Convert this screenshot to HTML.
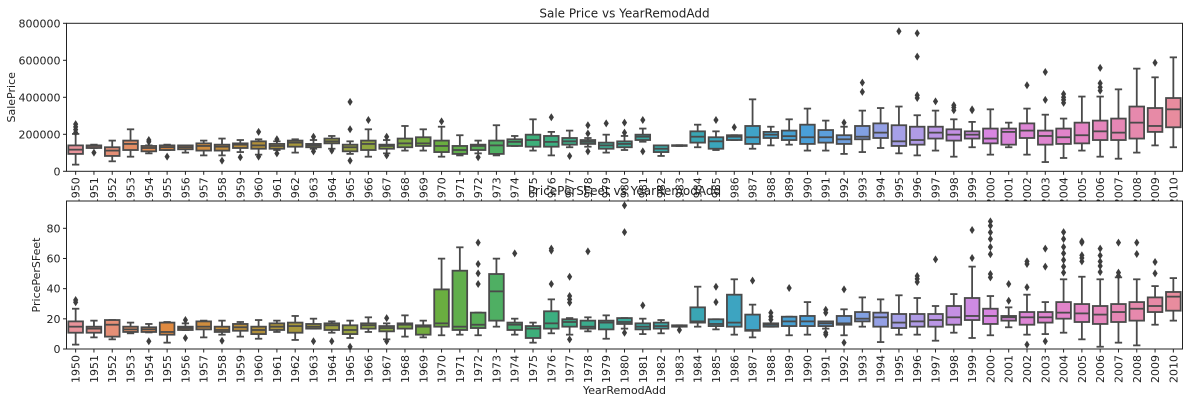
<!DOCTYPE html>
<html><head><meta charset="utf-8"><style>
html,body{margin:0;padding:0;background:#fff;}
svg{display:block;font-family:"DejaVu Sans","Liberation Sans",sans-serif;}
</style></head><body>
<svg id="chart" width="1192" height="403" xmlns="http://www.w3.org/2000/svg"></svg>
<script>
const years = [];
for (let y = 1950; y <= 2010; y++) years.push(String(y));

// Sale price stats (thousands)
const spLow  = [36,126,54,79,97,115,101,86,86,104,90,115,101,122,122,94,79,97,112,112,79,86,97,86,137,112,86,130,133,101,115,160,83,137,130,115,169,122,140,144,112,112,94,104,126,97,86,112,79,130,90,130,90,50,72,112,79,68,101,140,130];
const spQ1   = [94,126,83,115,108,115,119,112,112,126,122,122,133,130,151,108,115,122,130,137,104,94,115,94,137,133,133,144,148,122,130,169,104,137,155,122,169,148,180,169,148,155,148,173,180,137,144,177,166,177,151,144,180,144,148,151,169,169,177,213,238];
const spMed  = [117,137,112,148,126,130,130,137,133,144,140,137,155,140,162,130,148,137,151,151,137,115,137,140,159,169,159,162,159,140,148,187,122,139,187,162,187,184,198,190,184,184,173,187,209,162,169,209,198,198,177,213,220,191,184,195,216,209,263,245,335];
const spQ3   = [140,140,130,166,137,140,140,151,144,151,162,148,166,148,177,144,166,144,177,184,166,137,144,166,173,198,191,180,169,155,162,198,140,141,216,184,195,245,213,220,252,223,195,245,259,249,241,241,227,216,231,231,259,220,231,263,274,285,350,342,396];
const spHigh = [202,144,166,227,140,144,140,166,177,169,173,162,173,169,191,162,227,169,245,227,241,195,166,249,191,281,213,220,180,198,191,231,140,141,252,216,195,389,241,281,339,274,241,328,342,350,303,328,281,267,335,263,339,306,285,404,404,443,555,508,616];
const spOut  = [[210,225,240,255],[101],[],[],[169,160],[79],[],[],[58],[76],[213,79],[173,97],[],[187,108],[112],[375,227,58],[277],[187,86],[],[],[270],[],[76],[],[],[],[292],[83],[249,204,108],[259],[263,209],[277,108],[],[],[],[277],[238],[],[],[],[],[],[263],[479,429],[],[757],[746,620,411,396],[378],[357,345,330],[335,330],[],[],[465],[537,386],[418,400,386,370],[],[559,476,454,436],[],[],[587],[]];
const spTicks = [0,200,400,600,800];
const spTickLabels = ["0","200000","400000","600000","800000"];

// Price per square foot stats
const ppLow  = [2.9,7.7,6.4,10.4,11,4.2,12.6,7.7,9.5,8.2,6.8,11.3,6,13.5,10.8,7.3,11.3,6.4,8.2,7.7,9.1,9.5,9.1,14.8,9.5,4.2,10.4,9.5,11.7,6.8,13.5,9.9,10.4,14.8,14.8,13,9.5,7.7,14.8,9.1,9.5,13.5,9.1,14.8,4.6,9.5,9.5,5.5,10.8,7.3,9.1,14.4,9.5,9.9,10.8,6.4,1.5,4.2,2.4,16.1,18.8];
const ppQ1   = [10.8,10.8,8.2,11.3,11.3,9.5,12.6,13,11.3,12.1,9.9,12.6,10.8,13.5,12.6,9.9,13.5,11.7,13.5,9.5,14.8,12.6,13.9,18.8,12.6,7.3,13.5,14.8,13.5,13,16.6,13,13.5,14.8,17.5,15.2,14.8,12.1,14.8,15.2,15.2,15.2,16.1,18.3,14.8,13.9,14.8,14.8,16.1,19.2,16.6,18.8,16.1,17.5,20.1,17.9,16.6,17.9,18.8,24.5,25.4];
const ppMed  = [14.8,13.5,16.1,13,13,11.3,13.9,14.8,12.6,14.4,12.6,14.8,15.2,14.8,15.7,12.6,15.7,13.9,16.1,14.8,17,14.8,16.1,38.2,16.1,13.5,17,17.9,14.8,17.5,17.9,14.8,15.2,15.2,18.3,16.6,17.5,12.6,16.1,18.3,18.3,17,17,20.1,21,17.5,18.3,19.2,21,21.9,21.9,21,21,21,24.1,23.6,22.8,24.5,26.7,28.5,34.7];
const ppQ3   = [18.3,14.8,19.2,14.8,14.4,17.5,14.8,18.3,14.8,16.6,14.8,17,17.5,16.6,17,15.7,17,15.2,17,15.7,39.5,51.9,24.1,49.7,17.5,15.2,25,19.7,18.8,18.8,20.5,17,17.5,15.7,27.6,19.7,36,22.8,17,21.4,21.9,18.3,21.9,24.5,24.1,23.2,23.2,23.2,28.5,33.8,26.7,21.9,24.5,24.5,31.1,29.8,28.5,29.8,31.1,34.2,37.8];
const ppHigh = [26.7,18.8,19.2,17.5,16.6,17.9,17,18.8,18.8,17.9,19.2,18.8,21.9,20.1,18.3,18.8,21,17,22.3,18.8,59.9,67.4,24.1,59.9,20.1,17.5,32.9,20.5,21,22.3,20.5,20.1,19.2,15.7,41.3,19.7,46.2,29.4,17,21.4,31.1,18.3,26.3,34.2,32.9,35.6,33.8,28.5,36.4,54.6,35.1,27.6,36,31.1,46.2,47.9,46.2,47.5,46.2,41.7,47];
const ppOut  = [[31,32.5],[],[],[],[5.1],[],[19.2,7.3],[],[5.5],[],[],[],[],[5.1],[5.1],[1.5],[],[20.5,5.1],[],[],[],[],[70.5,56.3,50.1,43.1],[],[63.4],[],[66.5,65.2,43.1],[47.9,35.1,32.9,30.7,6.4],[64.7],[],[95.2,77.5,10.8],[28.9],[],[12.6],[],[41.3,31.1],[],[45.3],[24,21.5,19.5],[40.4],[],[26,24,10.8,9.5],[39.5,4.2],[],[],[],[48.4,46.5,44.4],[59.4],[],[78.9,60.3],[84.6,81.7,77.3,72.9,67.6,62.8,49.7,47.5],[43.1,32],[58.1,56.3,40.9,2.9],[66.5,54.6,5.1],[77.5,72.9,67.6,63.4,59,54.6,50.6],[71.3,70.5,62.1,60.3,58.1],[66.5,62,58,55,51],[70.5,50.6,48.5],[70.5,63],[57.7,50.1],[]];
const ppTicks = [0,20,40,60,80];
const ppTickLabels = ["0","20","40","60","80"];

const NS = "http://www.w3.org/2000/svg";
const svg = document.getElementById("chart");
function mk(tag, attrs, parent) {
  const e = document.createElementNS(NS, tag);
  for (const k in attrs) e.setAttribute(k, attrs[k]);
  (parent || svg).appendChild(e);
  return e;
}
const X0 = 66.5, X1 = 1182.5;
const n = years.length;
const band = (X1 - X0) / n;
function xScale(i) { return X0 + band * (i + 0.5); }

const anchors = [[232,147,154],[224,138,64],[178,144,58],[154,164,64],[106,174,64],[61,175,122],[58,170,154],[58,165,187],[74,159,216],[166,160,232],[216,134,224],[228,132,196],[232,140,158]];
function colorAt(i) {
  const t = i / (n - 1) * (anchors.length - 1);
  const a = Math.floor(t), b = Math.min(a + 1, anchors.length - 1), f = t - a;
  const c = anchors[a].map((v, k) => Math.round(v + (anchors[b][k] - v) * f));
  return "rgb(" + c.join(",") + ")";
}

function drawAxes(cfg) {
  const yS = v => cfg.yb - (v - cfg.ymin) / (cfg.ymax - cfg.ymin) * (cfg.yb - cfg.yt);
  const g = mk("g", {});
  
  
  const bg = mk("rect", {x: X0, y: cfg.yt, width: X1 - X0, height: cfg.yb - cfg.yt, fill: "#fff"}, g);
  
  
  const boxes = mk("g", {}, g);
  
  
  const line = "#4a4a4a";
  const bw = band * 0.8;
  for (let i = 0; i < n; i++) {
    const cx = xScale(i);
    const bx = mk("g", {}, boxes);
    
    
    const lo = yS(cfg.low[i]), q1 = yS(cfg.q1[i]), md = yS(cfg.med[i]), q3 = yS(cfg.q3[i]), hi = yS(cfg.high[i]);
    mk("line", {x1: cx, x2: cx, y1: q1, y2: lo, stroke: line, "stroke-width": 1.8}, bx);
    mk("line", {x1: cx, x2: cx, y1: q3, y2: hi, stroke: line, "stroke-width": 1.8}, bx);
    mk("line", {x1: cx - bw / 4, x2: cx + bw / 4, y1: lo, y2: lo, stroke: line, "stroke-width": 1.8}, bx);
    mk("line", {x1: cx - bw / 4, x2: cx + bw / 4, y1: hi, y2: hi, stroke: line, "stroke-width": 1.8}, bx);
    mk("rect", {x: cx - bw / 2, y: q3, width: bw, height: Math.max(q1 - q3, 0.5), fill: colorAt(i), stroke: line, "stroke-width": 1.8}, bx);
    mk("line", {x1: cx - bw / 2, x2: cx + bw / 2, y1: md, y2: md, stroke: line, "stroke-width": 1.8}, bx);
    cfg.out[i].forEach(v => {
      const oy = yS(v);
      const d = mk("path", {d: `M${cx},${oy - 4}L${cx + 2.6},${oy}L${cx},${oy + 4}L${cx - 2.6},${oy}Z`, fill: "#3d3d3d"}, bx);
      
      
    });
  }
  // spines
  const sp = mk("rect", {x: X0, y: cfg.yt, width: X1 - X0, height: cfg.yb - cfg.yt, fill: "none", stroke: "#222", "stroke-width": 1}, g);
  
  
  // y ticks
  cfg.ticks.forEach((v, k) => {
    const y = yS(v);
    mk("line", {x1: X0 - 3.5, x2: X0, y1: y, y2: y, stroke: "#222"}, g);
    const t = mk("text", {x: X0 - 6, y: y + 4, "text-anchor": "end", "font-size": 11, fill: "#222"}, g);
    t.textContent = cfg.tickLabels[k];
    
    
  });
  // x ticks
  for (let i = 0; i < n; i++) {
    const cx = xScale(i);
    mk("line", {x1: cx, x2: cx, y1: cfg.yb, y2: cfg.yb + 3.5, stroke: "#222"}, g);
    const t = mk("text", {x: 0, y: 0, "text-anchor": "end", "font-size": 11, fill: "#222", transform: `translate(${cx + 4},${cfg.yb + 6}) rotate(-90)`}, g);
    t.textContent = years[i];
    
    
  }
  const yl = mk("text", {x: 0, y: 0, "text-anchor": "middle", "font-size": 11, fill: "#222", transform: `translate(${cfg.ylx},${(cfg.yt + cfg.yb) / 2}) rotate(-90)`}, g);
  yl.textContent = cfg.ylabel;
  
  
  const tt = mk("text", {x: (X0 + X1) / 2, y: cfg.yt - 6, "text-anchor": "middle", "font-size": 12, fill: "#222"}, g);
  tt.textContent = cfg.title;
  
  
}

drawAxes({name: "sale-price-axes", yt: 23.3, yb: 171.3, ymin: 0, ymax: 800, low: spLow, q1: spQ1, med: spMed, q3: spQ3, high: spHigh, out: spOut, ticks: spTicks, tickLabels: spTickLabels, ylabel: "SalePrice", ylx: 15, title: "Sale Price vs YearRemodAdd"});
drawAxes({name: "price-per-sqft-axes", yt: 201, yb: 349, ymin: 0, ymax: 98.1, low: ppLow, q1: ppQ1, med: ppMed, q3: ppQ3, high: ppHigh, out: ppOut, ticks: ppTicks, tickLabels: ppTickLabels, ylabel: "PricePerSFeet", ylx: 40, title: "PricePerSFeet vs YearRemodAdd"});

const xl = mk("text", {x: (X0 + X1) / 2, y: 394, "text-anchor": "middle", "font-size": 11, fill: "#222"});
xl.textContent = "YearRemodAdd";


</script>
</body></html>
